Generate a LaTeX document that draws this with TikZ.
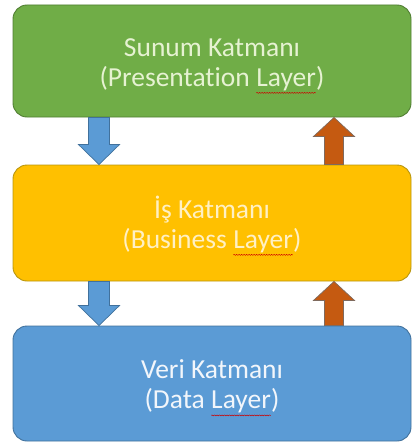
\documentclass[tikz,border=0pt]{standalone}
\usepackage{fontspec}
\setmainfont{Carlito}[Ligatures=NoCommon]
\usetikzlibrary{calc,decorations.pathmorphing}
\definecolor{gfill}{HTML}{70AD47}
\definecolor{gline}{HTML}{507E32}
\definecolor{gtext}{HTML}{E6F2D2}
\definecolor{yfill}{HTML}{FFC000}
\definecolor{yline}{HTML}{B8950E}
\definecolor{ytext}{HTML}{FFF0C4}
\definecolor{bfill}{HTML}{5B9BD5}
\definecolor{bline}{HTML}{41719C}
\definecolor{btext}{HTML}{F2F6FB}
\definecolor{ofill}{HTML}{C55A11}
\definecolor{oline}{HTML}{7F6A5E}
\tikzset{
  layer/.style={rounded corners=14pt, minimum width=398pt, line width=0.9pt,
    align=center, inner sep=0pt, font=\fontsize{27.5}{30}\selectfont},
  downarrow/.style={fill=bfill, draw=bline, line width=0.7pt},
  uparrow/.style={fill=ofill, draw=oline, line width=0.7pt},
}
\newcommand\topstrut{\rule{0pt}{28pt}}
\newcommand\sqw[1]{\tikz[baseline=(w.base),x=1cm,y=1cm]{\node[inner sep=0pt,outer sep=0pt,minimum width=0pt,minimum height=0pt,draw=none,fill=none,rounded corners=0pt,anchor=base](w) at (0,0){#1};\draw[draw=red!80!black,line width=0.45pt,rounded corners=0pt,decorate,decoration={snake,amplitude=0.5pt,segment length=2.5pt}] ([yshift=-6.5pt]w.base west) -- ([yshift=-6.5pt]w.base east);}}
\newcommand\downblock[3]{%
  \path[#3] let \p1=(#1), \p2=(#2) in
    (\x1-10.5pt,\y1) -- (\x1-10.5pt,\y2+20pt) -- (\x1-20.5pt,\y2+20pt) -- (\x1,\y2)
    -- (\x1+20.5pt,\y2+20pt) -- (\x1+10.5pt,\y2+20pt) -- (\x1+10.5pt,\y1) -- cycle;}
\newcommand\upblock[3]{%
  \path[#3] let \p1=(#1), \p2=(#2) in
    (\x1-9.5pt,\y1) -- (\x1-9.5pt,\y2-19pt) -- (\x1-20.5pt,\y2-19pt) -- (\x1,\y2)
    -- (\x1+20.5pt,\y2-19pt) -- (\x1+9.5pt,\y2-19pt) -- (\x1+9.5pt,\y1) -- cycle;}
\begin{document}
\begin{tikzpicture}[x=1pt,y=-1pt]
\useasboundingbox (0,0) rectangle (414,444);
\node[layer, fill=gfill, draw=gline, text=gtext, minimum height=112pt] (g) at (212,61)
  {\topstrut Sunum Katmanı\\(Presentation \sqw{Layer})};
\node[layer, fill=yfill, draw=yline, text=ytext, minimum height=116pt] (y) at (212,223)
  {\topstrut İş Katmanı\\(Business \sqw{Layer})};
\node[layer, fill=bfill, draw=bline, text=btext, minimum height=115pt] (b) at (212,383.5)
  {\topstrut Veri Katmanı\\(Data \sqw{Layer})};
\coordinate (d1s) at ([xshift=-113pt]g.south);
\coordinate (d1e) at ([xshift=-113pt]y.north);
\coordinate (d2s) at ([xshift=-113pt]y.south);
\coordinate (d2e) at ([xshift=-113pt]b.north);
\coordinate (u1s) at ([xshift=122pt]y.north);
\coordinate (u1e) at ([xshift=122pt]g.south);
\coordinate (u2s) at ([xshift=122pt]b.north);
\coordinate (u2e) at ([xshift=122pt]y.south);
\downblock{d1s}{d1e}{downarrow}
\downblock{d2s}{d2e}{downarrow}
\upblock{u1s}{u1e}{uparrow}
\upblock{u2s}{u2e}{uparrow}
\end{tikzpicture}
\end{document}
